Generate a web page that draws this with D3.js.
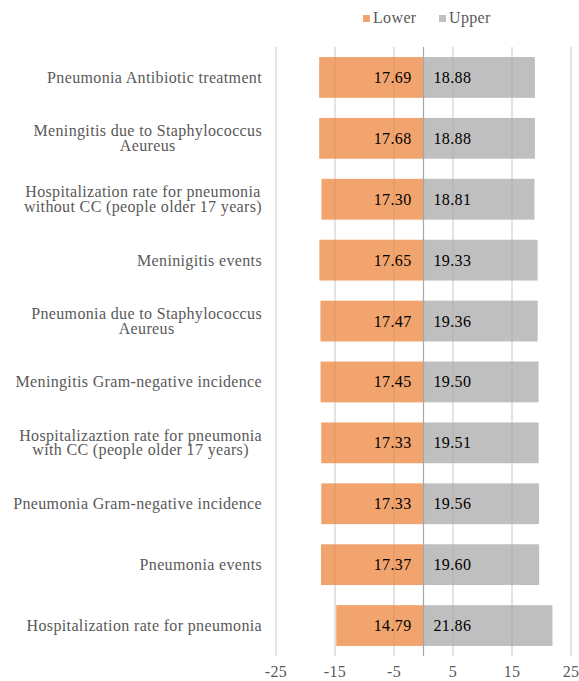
<!DOCTYPE html>
<html>
<head>
<meta charset="utf-8">
<script src="https://cdn.jsdelivr.net/npm/d3@7"></script>
</head>
<body style="margin:0;background:#fff">
<script>
// chart values, top to bottom
const categories = [
  ["Pneumonia Antibiotic treatment"],
  ["Meningitis due to Staphylococcus", "Aeureus"],
  ["Hospitalization rate for pneumonia", "without CC (people older 17 years)"],
  ["Meninigitis events"],
  ["Pneumonia due to Staphylococcus", "Aeureus"],
  ["Meningitis Gram-negative incidence"],
  ["Hospitalizaztion rate for pneumonia", "with CC (people older 17 years)"],
  ["Pneumonia Gram-negative incidence"],
  ["Pneumonia events"],
  ["Hospitalization rate for pneumonia"]
]
const lowerValues = [17.69, 17.68, 17.30, 17.65, 17.47, 17.45, 17.33, 17.33, 17.37, 14.79]
const upperValues = [18.88, 18.88, 18.81, 19.33, 19.36, 19.50, 19.51, 19.56, 19.60, 21.86]
const tickValues = [-25, -15, -5, 5, 15, 25]
const seriesNames = ["Lower", "Upper"]

const width = 579, height = 681
const colors = { Lower: "#F2A46E", Upper: "#BFBFBF" }
const fontSize = 16
const font = "Liberation Serif"

const svg = d3.select("body").append("svg")
    .attr("width", width)
    .attr("height", height)

function label(parent, tx, ty, fill) {
    return parent.append("text")
        .attr("font-family", font)
        .attr("font-size", fontSize)
        .attr("letter-spacing", 0.35)
        .attr("fill", fill)
        .attr("x", tx)
        .attr("y", ty)
}

const x = d3.scaleLinear().domain([-25, 25]).range([276, 571])
const y = d3.scaleBand()
    .domain(d3.range(categories.length))
    .range([47, 656])
    .paddingInner(0.33)
    .paddingOuter(0.165)

// gridlines behind
svg.append("g").selectAll("line").data(tickValues).join("line")
    .attr("x1", d => x(d)).attr("x2", d => x(d))
    .attr("y1", 47).attr("y2", 656)
    .attr("stroke", "#D9D9D9")

// bars
const rows = svg.append("g").selectAll("g").data(d3.range(categories.length)).join("g")

rows.append("rect")
    .attr("x", i => x(-lowerValues[i]))
    .attr("y", i => y(i))
    .attr("width", i => x(0) - x(-lowerValues[i]))
    .attr("height", y.bandwidth())
    .attr("fill", colors.Lower)

rows.append("rect")
    .attr("x", x(0))
    .attr("y", i => y(i))
    .attr("width", i => x(upperValues[i]) - x(0))
    .attr("height", y.bandwidth())
    .attr("fill", colors.Upper)

// faint gridlines showing through the bars
svg.append("g").selectAll("line").data(tickValues).join("line")
    .attr("x1", d => x(d)).attr("x2", d => x(d))
    .attr("y1", 47).attr("y2", 656)
    .attr("stroke", "#000")
    .attr("stroke-opacity", 0.07)

// zero axis line
svg.append("line")
    .attr("x1", x(0)).attr("x2", x(0))
    .attr("y1", 47).attr("y2", 656)
    .attr("stroke", "#A6A6A6")
    .attr("stroke-width", 1.2)

// value labels and category labels
const labelRight = 262
rows.each(function(i) {
    const g = d3.select(this)
    const cy = y(i) + y.bandwidth() / 2
    label(g, x(0) - 12, cy + 5.5, "#000")
        .attr("text-anchor", "end")
        .text(lowerValues[i].toFixed(2))
    label(g, x(0) + 10, cy + 5.5, "#000")
        .text(upperValues[i].toFixed(2))

    const lines = categories[i]
    if (lines.length === 1) {
        label(g, labelRight, cy + 5.5, "#595959")
            .attr("text-anchor", "end")
            .text(lines[0])
    } else {
        // block right-aligned, lines centered on each other
        const texts = lines.map(t => label(g, 0, 0, "#595959")
            .attr("text-anchor", "middle")
            .text(t))
        const w = d3.max(texts, t => t.node().getComputedTextLength())
        const mid = labelRight - w / 2
        texts[0].attr("x", mid).attr("y", cy - 2)
        texts[1].attr("x", mid).attr("y", cy + 12.5)
    }
})

// x axis tick labels
const axisG = svg.append("g")
tickValues.forEach(d => {
    label(axisG, x(d), 677, "#595959")
        .attr("text-anchor", "middle")
        .text(d)
})

// legend
const legendX = [363, 439]
seriesNames.forEach((name, i) => {
    const lg = svg.append("g").attr("transform", `translate(${legendX[i]},0)`)
    lg.append("rect")
        .attr("x", 0).attr("y", 15)
        .attr("width", 7).attr("height", 7)
        .attr("fill", colors[name])
    label(lg, 10, 23, "#595959").text(name)
})
</script>
</body>
</html>
